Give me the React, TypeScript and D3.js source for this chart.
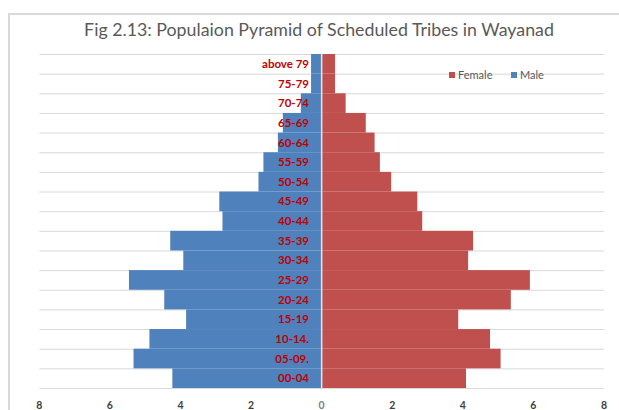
import React, { useRef, useEffect } from 'react';
import * as d3 from 'd3';

const ageGroups = [
  'above 79', '75-79', '70-74', '65-69', '60-64', '55-59', '50-54', '45-49', '40-44',
  '35-39', '30-34', '25-29', '20-24', '15-19', '10-14.', '05-09.', '00-04',
];
const maleValues = [0.3, 0.3, 0.59, 1.1, 1.24, 1.65, 1.79, 2.9, 2.81, 4.29, 3.92, 5.46, 4.46, 3.84, 4.88, 5.33, 4.23];
const femaleValues = [0.38, 0.38, 0.68, 1.25, 1.5, 1.65, 1.97, 2.71, 2.85, 4.29, 4.15, 5.9, 5.36, 3.87, 4.77, 5.07, 4.09];
const tickValues = [-8, -6, -4, -2, 0, 2, 4, 6, 8];

const W = 619;
const H = 410;
const FONT = 'Lato, "Open Sans", sans-serif';

export default function App() {
  const svgRef = useRef<SVGSVGElement>(null);

  useEffect(() => {
    const el = svgRef.current;
    if (!el) return;
    const svg = d3.select(el);
    svg.selectAll('*').remove();

    const x = d3.scaleLinear().domain([-8, 8]).range([39.3, 604]);
    const y = d3.scaleBand<string>().domain(ageGroups).range([54, 388]).padding(0);

    // chart border
    svg.append('rect')
      .attr('x', 9).attr('y', 14).attr('width', 630).attr('height', 420)
      .attr('fill', '#fff').attr('stroke', '#d9d9d9').attr('stroke-width', 2);

    svg.append('text')
      .attr('x', 319).attr('y', 36)
      .attr('text-anchor', 'middle')
      .attr('font-family', FONT).attr('font-size', 17.8)
      .attr('fill', '#595959')
      .text('Fig 2.13:  Populaion Pyramid of Scheduled Tribes in Wayanad');

    // horizontal gridlines
    const lines = ageGroups.map((g) => y(g)!).concat([y.range()[1]]);
    svg.selectAll('.grid').data(lines).enter().append('line')
      .attr('x1', x(-8)).attr('x2', x(8))
      .attr('y1', (d) => d + 0.5).attr('y2', (d) => d + 0.5)
      .attr('stroke', '#d9d9d9').attr('stroke-width', 1);

    // male bars (left)
    svg.selectAll('.male').data(maleValues).enter().append('rect')
      .attr('x', (d) => x(-d))
      .attr('y', (_, i) => y(ageGroups[i])!)
      .attr('width', (d) => x(0) - x(-d))
      .attr('height', y.bandwidth())
      .attr('fill', '#4f81bd');

    // female bars (right)
    svg.selectAll('.female').data(femaleValues).enter().append('rect')
      .attr('x', x(0))
      .attr('y', (_, i) => y(ageGroups[i])!)
      .attr('width', (d) => x(d) - x(0))
      .attr('height', y.bandwidth())
      .attr('fill', '#c0504d');

    // vertical axis line
    svg.append('line')
      .attr('x1', x(0)).attr('x2', x(0))
      .attr('y1', 54).attr('y2', 388)
      .attr('stroke', '#e6e6e6').attr('stroke-width', 1.5);

    // category labels
    svg.selectAll('.cat').data(ageGroups).enter().append('text')
      .attr('x', 309)
      .attr('y', (d) => y(d)! + y.bandwidth() / 2)
      .attr('dy', '0.36em')
      .attr('text-anchor', 'end')
      .attr('font-family', FONT).attr('font-size', 11.5).attr('font-weight', 'bold')
      .attr('fill', '#c00000')
      .text((d) => d);

    // x tick labels
    svg.selectAll('.tick').data(tickValues).enter().append('text')
      .attr('x', (d) => x(d))
      .attr('y', 409)
      .attr('text-anchor', 'middle')
      .attr('font-family', FONT).attr('font-size', 10.5).attr('font-weight', 'bold')
      .attr('fill', (d) => (d === 0 ? '#7f7f7f' : '#404040'))
      .text((d) => Math.abs(d));

    // legend
    const legend = [
      { label: 'Female', color: '#c0504d', x: 449 },
      { label: 'Male', color: '#4f81bd', x: 511 },
    ];
    const lg = svg.selectAll('.lg').data(legend).enter().append('g');
    lg.append('rect')
      .attr('x', (d) => d.x).attr('y', 72).attr('width', 6).attr('height', 6)
      .attr('fill', (d) => d.color);
    lg.append('text')
      .attr('x', (d) => d.x + 9).attr('y', 75)
      .attr('dy', '0.36em')
      .attr('font-family', FONT).attr('font-size', 11)
      .attr('fill', '#595959')
      .text((d) => d.label);
  }, []);

  return (
    <svg
      ref={svgRef}
      width={W}
      height={H}
      style={{ position: 'absolute', left: 0, top: 0, background: '#fff' }}
    />
  );
}
